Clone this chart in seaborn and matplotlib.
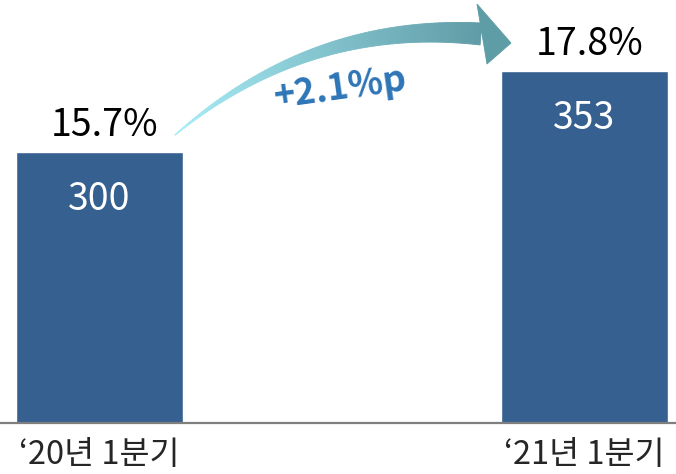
import numpy as np
import pandas as pd
import matplotlib.pyplot as plt
import seaborn as sns
from matplotlib.patches import Polygon

# chart values
periods = ['‘20년 1분기', '‘21년 1분기']
counts = [300, 353]
shares = [15.7, 17.8]
change_label = '+2.1%p'

sns.set_style('white')
plt.rcParams['font.family'] = ['Noto Sans CJK KR', 'DejaVu Sans']

df = pd.DataFrame({'period': periods, 'count': counts})

fig = plt.figure(figsize=(6.76, 4.74), dpi=100)
ax = fig.add_axes([0, 0.1082, 1, 0.8918])
sns.barplot(data=df, x='period', y='count', color='#36608f', saturation=1,
            width=0.343, ax=ax)
ax.set_xlim(-0.2047, 1.1886)
ax.set_ylim(122.7, 399.3)

# labels above and inside bars
for i, (c, s) in enumerate(zip(counts, shares)):
    ax.annotate(f'{s}%', xy=(i, c), xytext=(4, 11), textcoords='offset points',
                ha='center', va='baseline', fontsize=27, color='black')
    ax.annotate(f'{c}', xy=(i, c), xytext=(0, -41.6), textcoords='offset points',
                ha='center', va='baseline', fontsize=27, color='white')

ax.set_xlabel('')
ax.set_ylabel('')
ax.set_yticks([])
ax.tick_params(axis='x', length=0, pad=12, labelsize=23.5)
for side in ['left', 'top', 'right']:
    ax.spines[side].set_visible(False)
ax.spines['bottom'].set_color('#7f7f7f')
ax.spines['bottom'].set_linewidth(1.6)

# curved gradient arrow (overlay in pixel space)
ov = fig.add_axes([0, 0, 1, 1], zorder=5)
ov.set_xlim(0, 676)
ov.set_ylim(474, 0)
ov.axis('off')

p0 = np.array([175.0, 135.0])
p1 = np.array([310.0, 20.0])
p2 = np.array([481.0, 34.0])
t = np.linspace(0, 1, 90)
pts = ((1 - t)[:, None] ** 2) * p0 + (2 * (1 - t) * t)[:, None] * p1 + (t[:, None] ** 2) * p2
d = 2 * (1 - t)[:, None] * (p1 - p0) + 2 * t[:, None] * (p2 - p1)
nrm = np.stack([-d[:, 1], d[:, 0]], axis=1)
nrm /= np.linalg.norm(nrm, axis=1)[:, None]
half = 0.3 + 10.7 * t
upper = pts + nrm * half[:, None]
lower = pts - nrm * half[:, None]
c0 = np.array([0.66, 0.93, 0.97])
c1 = np.array([0.37, 0.61, 0.65])
for k in range(len(t) - 1):
    col = c0 + (c1 - c0) * t[k]
    quad = [upper[k], upper[k + 1], lower[k + 1], lower[k]]
    ov.add_patch(Polygon(quad, closed=True, facecolor=col, edgecolor=col, lw=0.6))
ov.add_patch(Polygon([(477, 4), (511, 43), (487, 64)], closed=True,
                     facecolor=c1, edgecolor=c1, lw=0.6))

ov.text(340, 88, change_label, rotation=8, ha='center', va='center',
        rotation_mode='anchor', color='#2e75b6', fontsize=26, fontweight='bold')

fig.savefig('out.png', dpi=100)
